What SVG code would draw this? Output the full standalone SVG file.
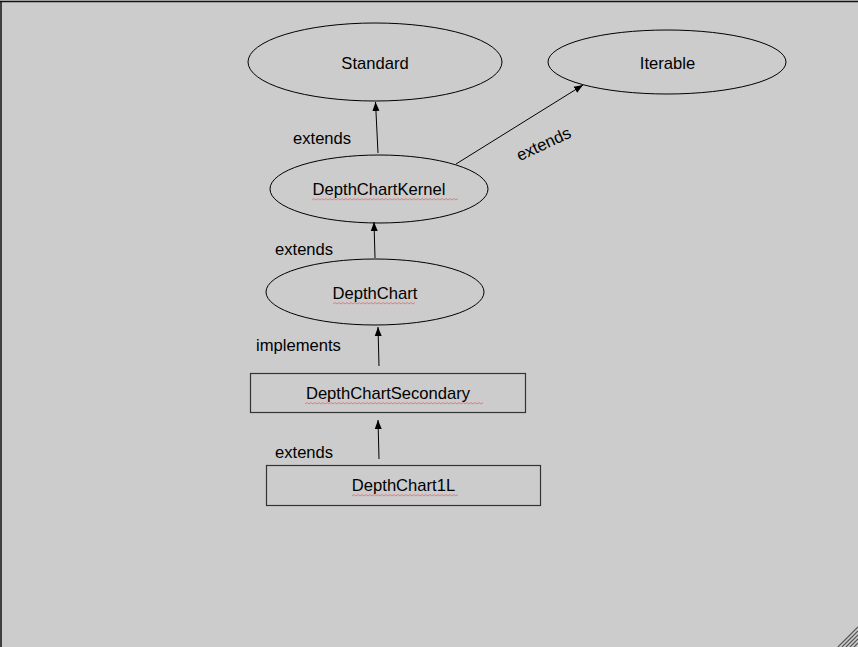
<svg xmlns="http://www.w3.org/2000/svg" width="858" height="647" viewBox="0 0 858 647">
<style>
.node{fill:none;stroke:#000;stroke-width:1}
.box{fill:none;stroke:#333;stroke-width:1.2}
.lbl{font-family:"Liberation Sans",Arial,sans-serif;font-size:16.6px;fill:#000}
.c{text-anchor:middle}
.conn{stroke:#000;stroke-width:1;fill:none;marker-end:url(#arr)}
.wavy{fill:none;stroke:#e07070;stroke-width:1;opacity:0.85}
.grip{stroke:#555;stroke-width:1.2}
</style>
<defs>
<marker id="arr" markerWidth="10" markerHeight="10" refX="9" refY="5" orient="auto" markerUnits="userSpaceOnUse">
<path d="M0,1.5 L9,5 L0,8.5 Z" fill="#000"/>
</marker>
</defs>
<rect x="0" y="0" width="858" height="647" fill="#cccccc"/>
<line x1="0" y1="1.5" x2="858" y2="1.5" stroke="#111" stroke-width="1.5"/>
<line x1="1" y1="1" x2="1" y2="647" stroke="#111" stroke-width="1.5"/>
<g id="grip">
<line class="grip" x1="838" y1="647" x2="858" y2="627"/>
<line class="grip" x1="842" y1="647" x2="858" y2="631"/>
<line class="grip" x1="846" y1="647" x2="858" y2="635"/>
<line class="grip" x1="850" y1="647" x2="858" y2="639"/>
<line class="grip" x1="854" y1="647" x2="858" y2="643"/>
</g>
<g id="connectors">
<line class="conn" x1="378" y1="153" x2="375.5" y2="102"/>
<line class="conn" x1="456" y1="164" x2="583" y2="85"/>
<line class="conn" x1="375" y1="258" x2="374" y2="222"/>
<line class="conn" x1="379" y1="366" x2="378" y2="327"/>
<line class="conn" x1="379" y1="459" x2="378" y2="420"/>
<text class="lbl" x="293" y="144">extends</text>
<text class="lbl c" transform="translate(546,149) rotate(-25)">extends</text>
<text class="lbl" x="275" y="255">extends</text>
<text class="lbl" x="256" y="351">implements</text>
<text class="lbl" x="275" y="458">extends</text>
</g>
<g id="Standard">
<ellipse class="node" cx="375" cy="62" rx="127" ry="39"/>
<text class="lbl c" x="375" y="69">Standard</text>
</g>
<g id="Iterable">
<ellipse class="node" cx="667" cy="62" rx="119" ry="32"/>
<text class="lbl c" x="667.5" y="69">Iterable</text>
</g>
<g id="DepthChartKernel">
<ellipse class="node" cx="379" cy="189" rx="109" ry="34"/>
<text class="lbl c" x="379" y="195">DepthChartKernel</text>
<path class="wavy" d="M312,200 l2,-1.5 l2,1.5 l2,-1.5 l2,1.5 l2,-1.5 l2,1.5 l2,-1.5 l2,1.5 l2,-1.5 l2,1.5 l2,-1.5 l2,1.5 l2,-1.5 l2,1.5 l2,-1.5 l2,1.5 l2,-1.5 l2,1.5 l2,-1.5 l2,1.5 l2,-1.5 l2,1.5 l2,-1.5 l2,1.5 l2,-1.5 l2,1.5 l2,-1.5 l2,1.5 l2,-1.5 l2,1.5 l2,-1.5 l2,1.5 l2,-1.5 l2,1.5 l2,-1.5 l2,1.5 l2,-1.5 l2,1.5 l2,-1.5 l2,1.5 l2,-1.5 l2,1.5 l2,-1.5 l2,1.5 l2,-1.5 l2,1.5 l2,-1.5 l2,1.5 l2,-1.5 l2,1.5 l2,-1.5 l2,1.5 l2,-1.5 l2,1.5 l2,-1.5 l2,1.5 l2,-1.5 l2,1.5 l2,-1.5 l2,1.5 l2,-1.5 l2,1.5 l2,-1.5 l2,1.5 l2,-1.5 l2,1.5 l2,-1.5 l2,1.5 l2,-1.5 l2,1.5 l2,-1.5 l2,1.5 l2,-1.5"/>
</g>
<g id="DepthChart">
<ellipse class="node" cx="375" cy="292" rx="109" ry="33"/>
<text class="lbl c" x="375" y="299">DepthChart</text>
<path class="wavy" d="M333,304 l2,-1.5 l2,1.5 l2,-1.5 l2,1.5 l2,-1.5 l2,1.5 l2,-1.5 l2,1.5 l2,-1.5 l2,1.5 l2,-1.5 l2,1.5 l2,-1.5 l2,1.5 l2,-1.5 l2,1.5 l2,-1.5 l2,1.5 l2,-1.5 l2,1.5 l2,-1.5 l2,1.5 l2,-1.5 l2,1.5 l2,-1.5 l2,1.5 l2,-1.5 l2,1.5 l2,-1.5 l2,1.5 l2,-1.5 l2,1.5 l2,-1.5 l2,1.5 l2,-1.5 l2,1.5 l2,-1.5 l2,1.5 l2,-1.5 l2,1.5 l2,-1.5"/>
</g>
<g id="DepthChartSecondary">
<rect class="box" x="250.5" y="373.5" width="275" height="39"/>
<text class="lbl c" x="388" y="399">DepthChartSecondary</text>
<path class="wavy" d="M305,404 l2,-1.5 l2,1.5 l2,-1.5 l2,1.5 l2,-1.5 l2,1.5 l2,-1.5 l2,1.5 l2,-1.5 l2,1.5 l2,-1.5 l2,1.5 l2,-1.5 l2,1.5 l2,-1.5 l2,1.5 l2,-1.5 l2,1.5 l2,-1.5 l2,1.5 l2,-1.5 l2,1.5 l2,-1.5 l2,1.5 l2,-1.5 l2,1.5 l2,-1.5 l2,1.5 l2,-1.5 l2,1.5 l2,-1.5 l2,1.5 l2,-1.5 l2,1.5 l2,-1.5 l2,1.5 l2,-1.5 l2,1.5 l2,-1.5 l2,1.5 l2,-1.5 l2,1.5 l2,-1.5 l2,1.5 l2,-1.5 l2,1.5 l2,-1.5 l2,1.5 l2,-1.5 l2,1.5 l2,-1.5 l2,1.5 l2,-1.5 l2,1.5 l2,-1.5 l2,1.5 l2,-1.5 l2,1.5 l2,-1.5 l2,1.5 l2,-1.5 l2,1.5 l2,-1.5 l2,1.5 l2,-1.5 l2,1.5 l2,-1.5 l2,1.5 l2,-1.5 l2,1.5 l2,-1.5 l2,1.5 l2,-1.5 l2,1.5 l2,-1.5 l2,1.5 l2,-1.5 l2,1.5 l2,-1.5 l2,1.5 l2,-1.5 l2,1.5 l2,-1.5 l2,1.5 l2,-1.5 l2,1.5 l2,-1.5 l2,1.5 l2,-1.5"/>
</g>
<g id="DepthChart1L">
<rect class="box" x="266.5" y="465.5" width="274" height="40"/>
<text class="lbl c" x="403.5" y="491">DepthChart1L</text>
<path class="wavy" d="M352,496 l2,-1.5 l2,1.5 l2,-1.5 l2,1.5 l2,-1.5 l2,1.5 l2,-1.5 l2,1.5 l2,-1.5 l2,1.5 l2,-1.5 l2,1.5 l2,-1.5 l2,1.5 l2,-1.5 l2,1.5 l2,-1.5 l2,1.5 l2,-1.5 l2,1.5 l2,-1.5 l2,1.5 l2,-1.5 l2,1.5 l2,-1.5 l2,1.5 l2,-1.5 l2,1.5 l2,-1.5 l2,1.5 l2,-1.5 l2,1.5 l2,-1.5 l2,1.5 l2,-1.5 l2,1.5 l2,-1.5 l2,1.5 l2,-1.5 l2,1.5 l2,-1.5 l2,1.5 l2,-1.5 l2,1.5 l2,-1.5 l2,1.5 l2,-1.5 l2,1.5 l2,-1.5 l2,1.5 l2,-1.5 l2,1.5 l2,-1.5"/>
</g>
</svg>
